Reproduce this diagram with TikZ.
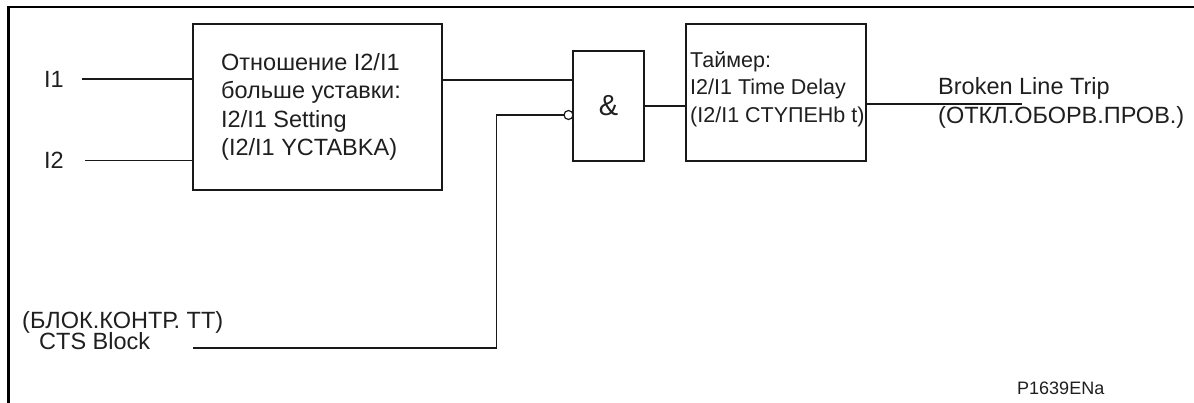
\documentclass[tikz,border=0pt]{standalone}
\usepackage{fontspec}
\setmainfont{Liberation Sans}
\begin{document}
\begin{tikzpicture}[x=1pt,y=-1pt,
  blk/.style={draw=black!90, line width=1.6pt, inner sep=0pt},
  wire/.style={draw=black!90, line width=1.4pt},
  txt/.style={inner sep=0pt, align=left, text=black!88, font=\fontsize{23.5}{28.5}\selectfont},
  small/.style={inner sep=0pt, text=black!88, font=\fontsize{18}{20}\selectfont},
  frame/.style={draw=black, line width=2.4pt}]
\useasboundingbox (0,0) rectangle (1194,403);
% frame
\draw[frame] (8.3,403) -- (8.3,7) -- (1194,7);
% blocks
\node[blk, minimum width=249pt, minimum height=166pt] (ratio) at (317.5,107) {};
\node[txt, anchor=west] (ratiotxt) at (221,107) {Отношение I2/I1\\больше уставки:\\I2/I1 Setting\\(I2/I1 YCTABKA)};
\node[blk, minimum width=71pt, minimum height=110pt, font=\fontsize{29}{30}\selectfont, text=black!88] (and) at (608.5,106) {\&};
\node[blk, minimum width=180pt, minimum height=137pt] (timer) at (776,92.5) {};
\node[txt, anchor=west, font=\fontsize{21.5}{27.5}\selectfont] (timertxt) at (690,89) {Таймер:\\I2/I1 Time Delay\\(I2/I1 CTYПЕНb t)};
% labels
\node[txt, anchor=west] (i1) at (44,79) {I1};
\node[txt, anchor=west] (i2) at (44,160) {I2};
\node[txt, anchor=west] (cts1) at (22,322) {(БЛОК.КОНТР. ТТ)};
\node[txt, anchor=west] (cts2) at (39,341) {CTS Block};
\node[txt, anchor=west] (outtxt) at (938,103) {Broken Line Trip\\(ОТКЛ.ОБОРВ.ПРОВ.)};
\node[small, anchor=west] (ref) at (1017,388) {P1639ENa};
% coordinates
\coordinate (i1s) at (82,79);
\coordinate (i2s) at (85,160.5);
\coordinate (ctss) at (193,348);
\coordinate (ctsup) at (496.5,348);
\coordinate (inv) at (568.5,115);
\coordinate (outend) at (1022,104);
% wires
\draw[wire] (i1s) -- (ratio.west |- i1s);
\draw[wire] (i2s) -- (ratio.west |- i2s);
\draw[wire] (ratio.east |- 0,80) -- (and.west |- 0,80);
\draw[wire] (ctss) -- (ctsup) -- (ctsup |- inv) -- ([xshift=-4.5pt]inv);
\draw[wire, line width=1.2pt] (inv) circle (4.5pt);
\draw[wire] (and.east) -- (timer.west |- and.east);
\draw[wire] (timer.east |- outend) -- (outend);
\end{tikzpicture}
\end{document}
